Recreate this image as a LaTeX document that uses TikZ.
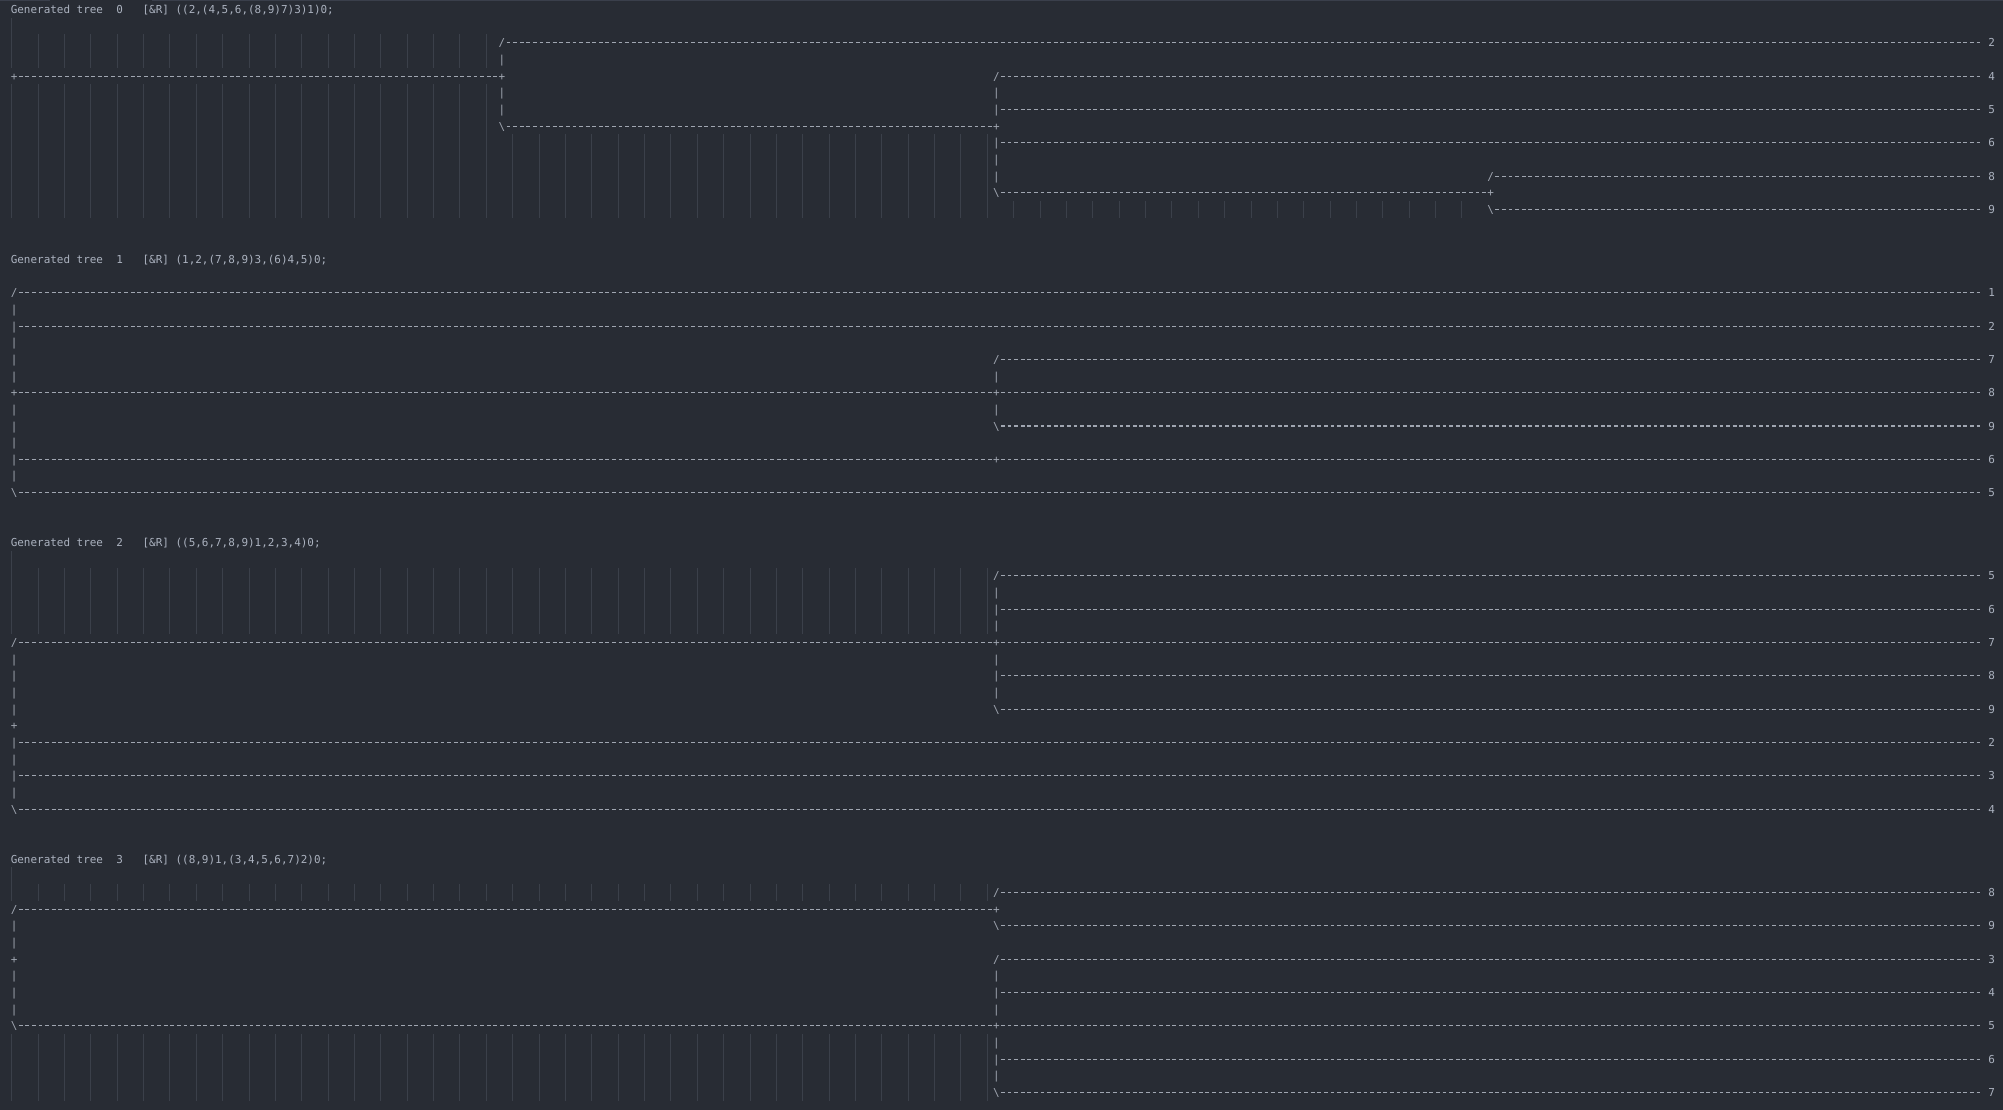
\documentclass[tikz,border=0pt]{standalone}
\usepackage{fontspec}
\newfontfamily\monofont{DejaVu Sans Mono}
\definecolor{bgc}{RGB}{40,44,52}
\definecolor{txtc}{RGB}{171,178,191}
\definecolor{treec}{RGB}{160,166,177}
\definecolor{guidec}{RGB}{59,64,74}
\definecolor{borderc}{RGB}{58,63,75}
\tikzset{
  gl/.style={inner sep=0pt, outer sep=0pt, text height=12.33pt, text depth=4.33pt,
    font=\monofont\fontsize{10.95pt}{16.66pt}\selectfont, text=treec},
  leaflab/.style={gl, text=txtc},
  header/.style={gl, text=txtc, anchor=west},
  dashrun/.style={draw=treec, line width=1.05pt, dash pattern=on 3.8pt off 2.792pt,
    shorten <=1.396pt, shorten >=1.396pt},
  leafrun/.style={dashrun, shorten >=7.988pt},
  vguide/.style={draw=guidec, line width=1pt},
}
\newcommand\vguides[5]{\foreach \gc in {#1,#2,...,#3} {\draw[vguide] (\gc-0.363,#4-0.5) -- (\gc-0.363,#5+0.5);}}
\begin{document}
\frenchspacing
\begin{tikzpicture}
\fill[bgc] (0pt,0pt) rectangle (2003pt,-1110pt);
\useasboundingbox (0pt,0pt) rectangle (2003pt,-1110pt);
\draw[borderc, line width=1pt] (0pt,-0.5pt) -- (50pt,-0.5pt);
\draw[borderc, line width=1pt] (152pt,-0.5pt) -- (2003pt,-0.5pt);
\begin{scope}[shift={(14.096pt,-9.5pt)}, x=6.592pt, y=-16.66pt]
% ---------- indent guides ----------
\draw[vguide] (-0.363,0.5) -- (-0.363,3.5);
\vguides{4}{8}{72}{2}{3}
\vguides{0}{4}{72}{5}{12}
\vguides{76}{80}{148}{8}{12}
\vguides{152}{156}{220}{12}{12}
\draw[vguide] (-0.363,32.5) -- (-0.363,37.5);
\vguides{4}{8}{148}{34}{37}
\draw[vguide] (-0.363,51.5) -- (-0.363,53.5);
\vguides{4}{8}{148}{53}{53}
\vguides{0}{4}{148}{62}{65}
% ---------- headers ----------
\node[header] (H0) at (-0.5,0) {Generated tree~~0~~~[\&R] ((2,(4,5,6,(8,9)7)3)1)0;};
\node[header] (H1) at (-0.5,15) {Generated tree~~1~~~[\&R] (1,2,(7,8,9)3,(6)4,5)0;};
\node[header] (H2) at (-0.5,32) {Generated tree~~2~~~[\&R] ((5,6,7,8,9)1,2,3,4)0;};
\node[header] (H3) at (-0.5,51) {Generated tree~~3~~~[\&R] ((8,9)1,(3,4,5,6,7)2)0;};
% ---------- tree 0 ----------
\node[gl] (A0) at (0,4) {+};
\node[gl] (A1) at (74,4) {+};
\node[gl] (A1a) at (74,2) {/};
\node[gl] (A1b) at (74,7) {\textbackslash};
\foreach \r in {3,5,6} {\node[gl] (A1v\r) at (74,\r) {|};}
\node[gl] (A3) at (149,7) {+};
\node[gl] (A3a) at (149,4) {/};
\node[gl] (A3m5) at (149,6) {|};
\node[gl] (A3m6) at (149,8) {|};
\node[gl] (A3b) at (149,11) {\textbackslash};
\foreach \r in {5,9,10} {\node[gl] (A3v\r) at (149,\r) {|};}
\node[gl] (A7) at (224,11) {+};
\node[gl] (A7a) at (224,10) {/};
\node[gl] (A7b) at (224,12) {\textbackslash};
\node[leaflab] (A2) at (300,2) {2};
\node[leaflab] (A4) at (300,4) {4};
\node[leaflab] (A5) at (300,6) {5};
\node[leaflab] (A6) at (300,8) {6};
\node[leaflab] (A8) at (300,10) {8};
\node[leaflab] (A9) at (300,12) {9};
\draw[dashrun] (A0.east) -- (A1.west);
\draw[leafrun] (A1a.east) -- (A2.west);
\draw[dashrun] (A1b.east) -- (A3.west);
\draw[leafrun] (A3a.east) -- (A4.west);
\draw[leafrun] (A3m5.east) -- (A5.west);
\draw[leafrun] (A3m6.east) -- (A6.west);
\draw[dashrun] (A3b.east) -- (A7.west);
\draw[leafrun] (A7a.east) -- (A8.west);
\draw[leafrun] (A7b.east) -- (A9.west);
% ---------- tree 1 ----------
\node[gl] (B0) at (0,23) {+};
\node[gl] (B0a) at (0,17) {/};
\node[gl] (B0m2) at (0,19) {|};
\node[gl] (B0m4) at (0,27) {|};
\node[gl] (B0b) at (0,29) {\textbackslash};
\foreach \r in {18,20,21,22,24,25,26,28} {\node[gl] (B0v\r) at (0,\r) {|};}
\node[gl] (B3) at (149,23) {+};
\node[gl] (B3a) at (149,21) {/};
\node[gl] (B3b) at (149,25) {\textbackslash};
\foreach \r in {22,24} {\node[gl] (B3v\r) at (149,\r) {|};}
\node[gl] (B4) at (149,27) {+};
\node[leaflab] (B1) at (300,17) {1};
\node[leaflab] (B2) at (300,19) {2};
\node[leaflab] (B7) at (300,21) {7};
\node[leaflab] (B8) at (300,23) {8};
\node[leaflab] (B9) at (300,25) {9};
\node[leaflab] (B6) at (300,27) {6};
\node[leaflab] (B5) at (300,29) {5};
\draw[leafrun] (B0a.east) -- (B1.west);
\draw[leafrun] (B0m2.east) -- (B2.west);
\draw[dashrun] (B0.east) -- (B3.west);
\draw[leafrun] (B3a.east) -- (B7.west);
\draw[leafrun] (B3.east) -- (B8.west);
\draw[leafrun] (B3b.east) -- (B9.west);
\draw[dashrun] (B0m4.east) -- (B4.west);
\draw[leafrun] (B4.east) -- (B6.west);
\draw[leafrun] (B0b.east) -- (B5.west);
% ---------- tree 2 ----------
\node[gl] (C0) at (0,43) {+};
\node[gl] (C0a) at (0,38) {/};
\node[gl] (C0m2) at (0,44) {|};
\node[gl] (C0m3) at (0,46) {|};
\node[gl] (C0b) at (0,48) {\textbackslash};
\foreach \r in {39,40,41,42,45,47} {\node[gl] (C0v\r) at (0,\r) {|};}
\node[gl] (C1) at (149,38) {+};
\node[gl] (C1a) at (149,34) {/};
\node[gl] (C1m6) at (149,36) {|};
\node[gl] (C1m8) at (149,40) {|};
\node[gl] (C1b) at (149,42) {\textbackslash};
\foreach \r in {35,37,39,41} {\node[gl] (C1v\r) at (149,\r) {|};}
\node[leaflab] (C5) at (300,34) {5};
\node[leaflab] (C6) at (300,36) {6};
\node[leaflab] (C7) at (300,38) {7};
\node[leaflab] (C8) at (300,40) {8};
\node[leaflab] (C9) at (300,42) {9};
\node[leaflab] (C2) at (300,44) {2};
\node[leaflab] (C3) at (300,46) {3};
\node[leaflab] (C4) at (300,48) {4};
\draw[dashrun] (C0a.east) -- (C1.west);
\draw[leafrun] (C1a.east) -- (C5.west);
\draw[leafrun] (C1m6.east) -- (C6.west);
\draw[leafrun] (C1.east) -- (C7.west);
\draw[leafrun] (C1m8.east) -- (C8.west);
\draw[leafrun] (C1b.east) -- (C9.west);
\draw[leafrun] (C0m2.east) -- (C2.west);
\draw[leafrun] (C0m3.east) -- (C3.west);
\draw[leafrun] (C0b.east) -- (C4.west);
% ---------- tree 3 ----------
\node[gl] (D0) at (0,57) {+};
\node[gl] (D0a) at (0,54) {/};
\node[gl] (D0b) at (0,61) {\textbackslash};
\foreach \r in {55,56,58,59,60} {\node[gl] (D0v\r) at (0,\r) {|};}
\node[gl] (D1) at (149,54) {+};
\node[gl] (D1a) at (149,53) {/};
\node[gl] (D1b) at (149,55) {\textbackslash};
\node[gl] (D2) at (149,61) {+};
\node[gl] (D2a) at (149,57) {/};
\node[gl] (D2m4) at (149,59) {|};
\node[gl] (D2m6) at (149,63) {|};
\node[gl] (D2b) at (149,65) {\textbackslash};
\foreach \r in {58,60,62,64} {\node[gl] (D2v\r) at (149,\r) {|};}
\node[leaflab] (D8) at (300,53) {8};
\node[leaflab] (D9) at (300,55) {9};
\node[leaflab] (D3) at (300,57) {3};
\node[leaflab] (D4) at (300,59) {4};
\node[leaflab] (D5) at (300,61) {5};
\node[leaflab] (D6) at (300,63) {6};
\node[leaflab] (D7) at (300,65) {7};
\draw[dashrun] (D0a.east) -- (D1.west);
\draw[leafrun] (D1a.east) -- (D8.west);
\draw[leafrun] (D1b.east) -- (D9.west);
\draw[dashrun] (D0b.east) -- (D2.west);
\draw[leafrun] (D2a.east) -- (D3.west);
\draw[leafrun] (D2m4.east) -- (D4.west);
\draw[leafrun] (D2.east) -- (D5.west);
\draw[leafrun] (D2m6.east) -- (D6.west);
\draw[leafrun] (D2b.east) -- (D7.west);
\end{scope}
\end{tikzpicture}
\end{document}
